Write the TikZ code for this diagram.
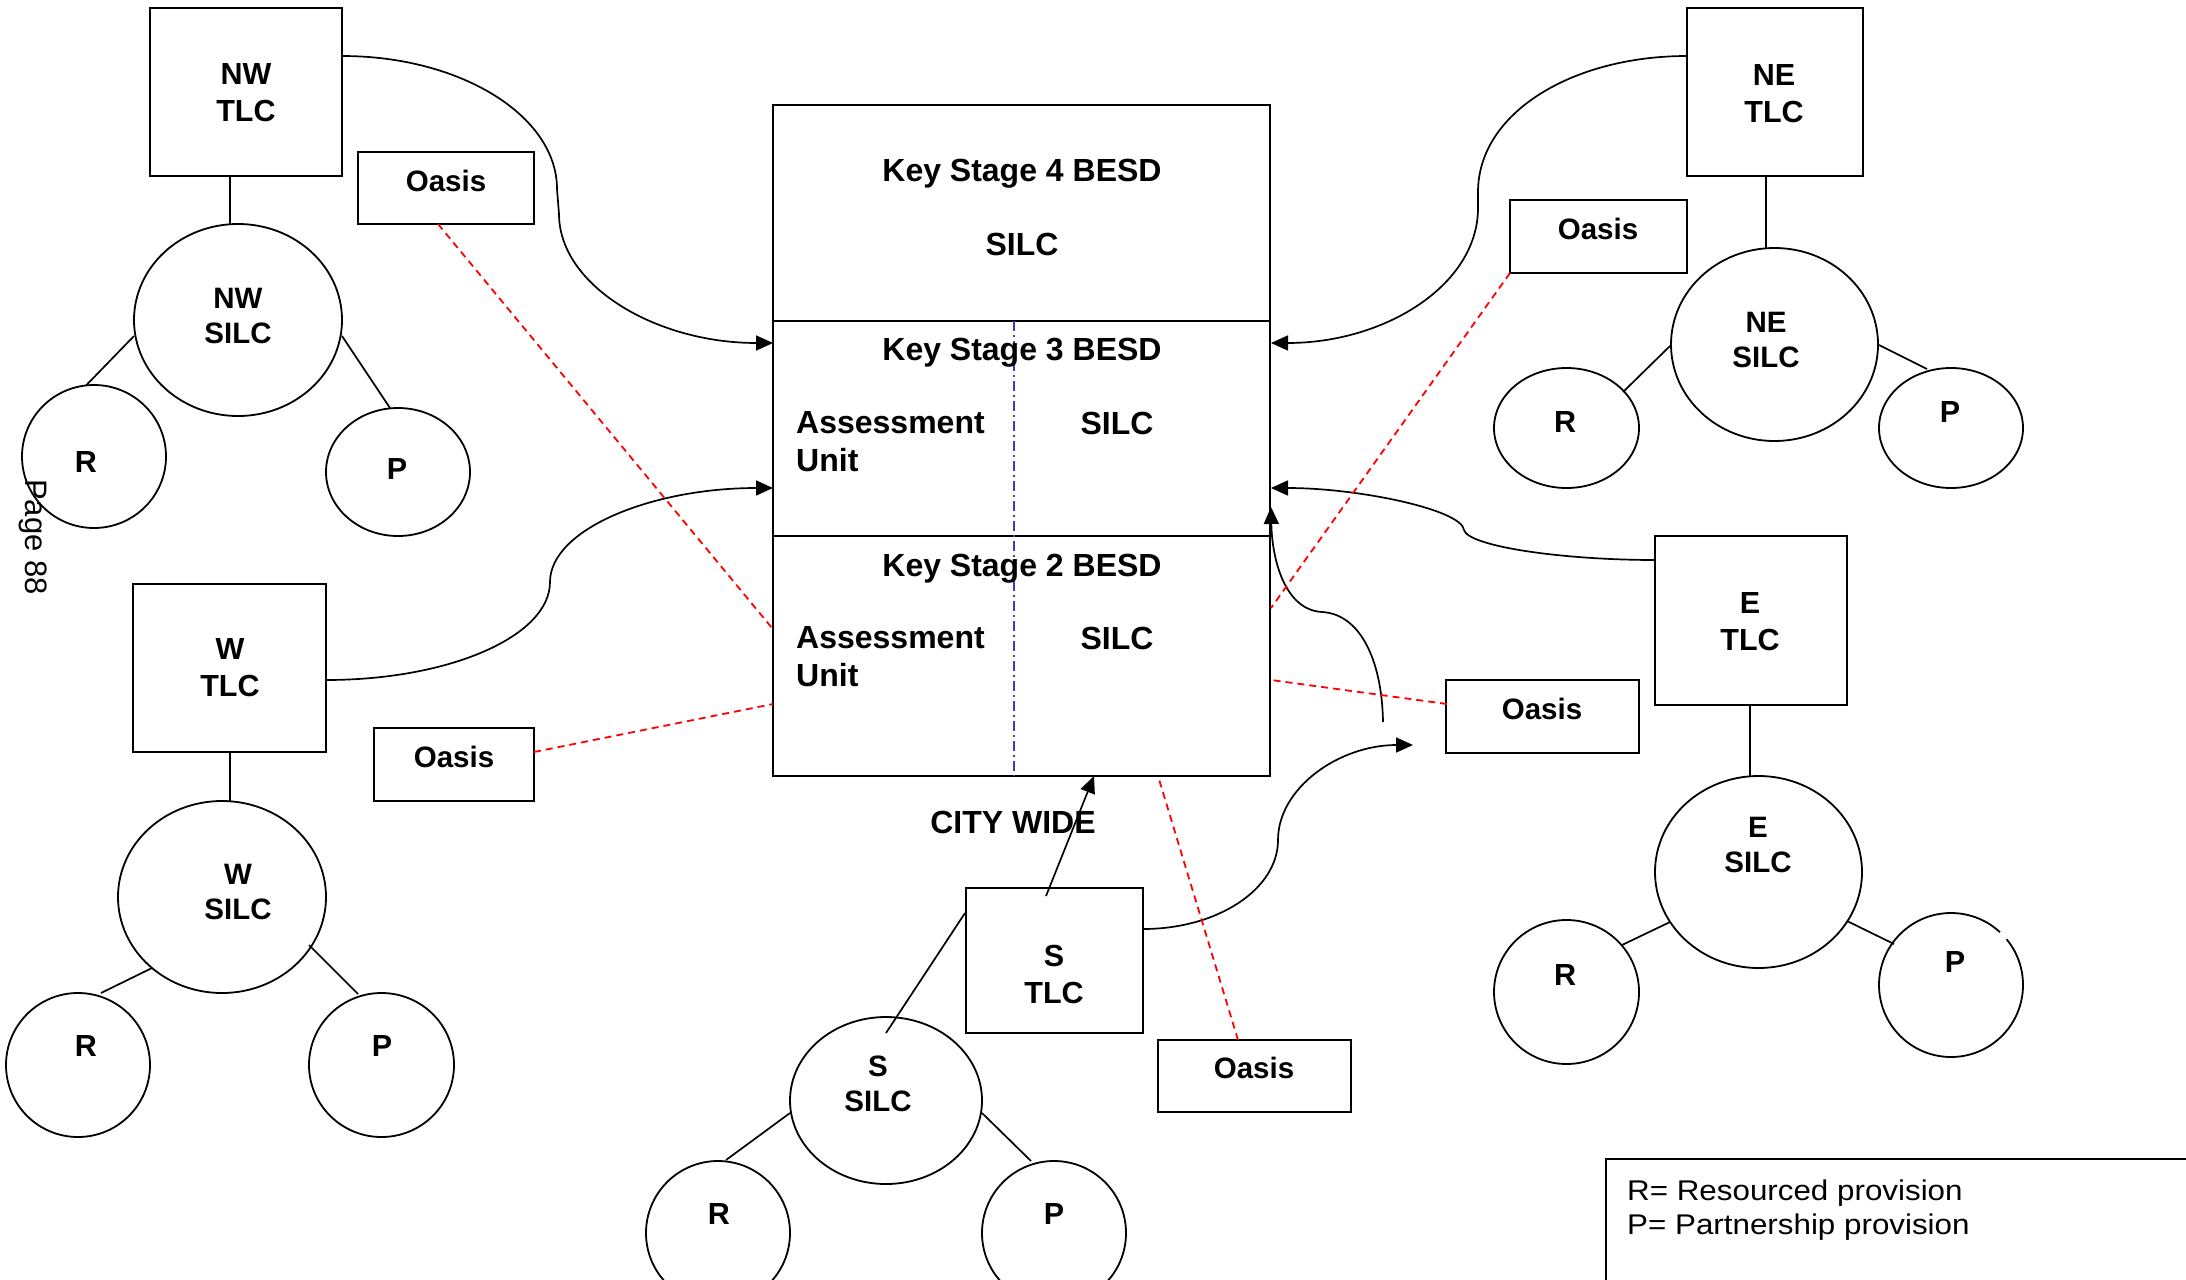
\documentclass[tikz,border=0pt]{standalone}
\usepackage{fontspec}
\setmainfont{Liberation Sans}
\newfontfamily\legfont[FakeStretch=1.1]{Liberation Sans}
\usetikzlibrary{arrows.meta,shapes.geometric}
\begin{document}
\begin{tikzpicture}[x=1pt,y=-1pt,
  shp/.style={draw, line width=1.8pt, inner sep=0pt, outer sep=0pt},
  rbox/.style={shp, rectangle},
  ell/.style={shp, ellipse},
  lab/.style={inner sep=0pt, align=center, font=\fontsize{30.5}{37}\selectfont\bfseries},
  slab/.style={inner sep=0pt, align=center, font=\fontsize{29.5}{35}\selectfont\bfseries},
  big/.style={inner sep=0pt, font=\fontsize{32}{38}\selectfont\bfseries},
  conn/.style={line width=1.7pt},
  arr/.style={conn, -{Triangle[length=17pt,width=15pt]}},
  redash/.style={draw=red, line width=1.8pt, dash pattern=on 7pt off 5pt},
  bluedd/.style={draw={rgb,255:red,60;green,60;blue,190}, line width=1.3pt, dash pattern=on 10pt off 4pt on 2pt off 4pt}
]
\useasboundingbox (0,0) rectangle (2186,1279);
\clip (0,0) rectangle (2186,1279);

% central block
\node[rbox, minimum width=497pt, minimum height=216.3pt] (ks4) at (1021.5,212.85) {};
\node[rbox, minimum width=497pt, minimum height=215pt] (ks3) at (1021.5,428.5) {};
\node[rbox, minimum width=497pt, minimum height=240pt] (ks2) at (1021.5,656) {};
\draw[bluedd] ([shift={(-7.5,0)}]ks3.north) -- ([shift={(-7.5,0)}]ks2.south);
\node[big, anchor=base] (ks4t) at (1022,181.5) {Key Stage 4 BESD};
\node[big, anchor=base] (ks4s) at (1022,255.5) {SILC};
\node[big, anchor=base] (ks3t) at (1022,360.5) {Key Stage 3 BESD};
\node[big, anchor=north west, align=left] (ks3a) at (796,411.5) {Assessment\\Unit};
\node[big, anchor=base] (ks3s) at (1117,434.5) {SILC};
\node[big, anchor=base] (ks2t) at (1022,576.5) {Key Stage 2 BESD};
\node[big, anchor=north west, align=left] (ks2a) at (796,626.5) {Assessment\\Unit};
\node[big, anchor=base] (ks2s) at (1117,649.5) {SILC};
\node[big] (city) at (1013,822) {CITY WIDE};

% NW
\node[rbox, minimum width=192pt, minimum height=168pt] (nwtlc) at (246,92) {};
\node[rbox, minimum width=176pt, minimum height=71.5pt] (nwoasis) at (446,188) {};
\node[ell, minimum width=208pt, minimum height=192pt] (nwsilc) at (238,320) {};
\node[ell, minimum width=144pt, minimum height=143pt] (nwr) at (94,456.5) {};
\node[ell, minimum width=144pt, minimum height=128pt] (nwp) at (398,472) {};
\node[lab] (nwtlct) at (246,92.5) {NW\\TLC};
\node[slab] (nwoasist) at (446,181) {Oasis};
\node[slab] (nwsilct) at (238,315.5) {NW\\SILC};
\node[lab] (nwrt) at (86,462) {R};
\node[lab] (nwpt) at (397,469) {P};

% NE
\node[rbox, minimum width=176pt, minimum height=168pt] (netlc) at (1775,92) {};
\node[rbox, minimum width=177pt, minimum height=73pt] (neoasis) at (1598.5,236.5) {};
\node[ell, minimum width=207pt, minimum height=193pt] (nesilc) at (1774.5,344.5) {};
\node[ell, minimum width=145pt, minimum height=120pt] (ner) at (1566.5,428) {};
\node[ell, minimum width=144pt, minimum height=120pt] (nep) at (1951,428) {};
\node[lab] (netlct) at (1774,93.5) {NE\\TLC};
\node[slab] (neoasist) at (1598,229) {Oasis};
\node[slab] (nesilct) at (1766,339.5) {NE\\SILC};
\node[lab] (nert) at (1565,422) {R};
\node[lab] (nept) at (1950,412) {P};

% W
\node[rbox, minimum width=193pt, minimum height=168pt] (wtlc) at (229.5,668) {};
\node[rbox, minimum width=160pt, minimum height=73pt] (woasis) at (454,764.5) {};
\node[ell, minimum width=208pt, minimum height=192pt] (wsilc) at (222,897) {};
\node[ell, minimum width=144pt, minimum height=144pt] (wr) at (78,1065) {};
\node[ell, minimum width=145pt, minimum height=144pt] (wp) at (381.5,1065) {};
\node[lab] (wtlct) at (230,668) {W\\TLC};
\node[slab] (woasist) at (454,757) {Oasis};
\node[slab] (wsilct) at (238,891.5) {W\\SILC};
\node[lab] (wrt) at (86,1046) {R};
\node[lab] (wpt) at (382,1046) {P};

% E
\node[rbox, minimum width=192pt, minimum height=169pt] (etlc) at (1751,620.5) {};
\node[rbox, minimum width=193pt, minimum height=73pt] (eoasis) at (1542.5,716.5) {};
\node[ell, minimum width=207pt, minimum height=192pt] (esilc) at (1758.5,872) {};
\node[ell, minimum width=145pt, minimum height=144pt] (er) at (1566.5,992) {};
\node[ellipse, inner sep=0pt, minimum width=144pt, minimum height=144pt] (ep) at (1951,985) {};
\draw[line width=1.8pt] ([shift={(-39.4:72)}]ep.center) arc[start angle=-39.4, end angle=312.8, radius=72];
\node[lab] (etlct) at (1750,621.5) {E\\TLC};
\node[slab] (eoasist) at (1542,709) {Oasis};
\node[slab] (esilct) at (1758,844.5) {E\\SILC};
\node[lab] (ert) at (1565,975) {R};
\node[lab] (ept) at (1955,962) {P};

% S
\node[rbox, minimum width=177pt, minimum height=145pt] (stlc) at (1054.5,960.5) {};
\node[rbox, minimum width=193pt, minimum height=72pt] (soasis) at (1254.5,1076) {};
\node[ell, minimum width=192pt, minimum height=167pt] (ssilc) at (886,1100.5) {};
\node[ell, minimum width=144pt, minimum height=144pt] (sr) at (718,1233) {};
\node[ell, minimum width=144pt, minimum height=144pt] (sp) at (1054,1233) {};
\node[lab] (stlct) at (1054,974.5) {S\\TLC};
\node[slab] (soasist) at (1254,1068) {Oasis};
\node[slab] (ssilct) at (878,1084) {S\\SILC};
\node[lab] (srt) at (719,1214) {R};
\node[lab] (spt) at (1054,1214) {P};

% tree lines
\draw[conn] ([shift={(-16,84)}]nwtlc.center) -- ([shift={(-8,-96)}]nwsilc.center);
\draw[conn] ([shift={(-104,16)}]nwsilc.center) -- ([shift={(-8,-71)}]nwr.center);
\draw[conn] ([shift={(104,16)}]nwsilc.center) -- ([shift={(-8,-64)}]nwp.center);
\draw[conn] ([shift={(-9,84)}]netlc.center) -- ([shift={(-8.5,-96.5)}]nesilc.center);
\draw[conn] ([shift={(-103.5,0.5)}]nesilc.center) -- ([shift={(56.5,-36)}]ner.center);
\draw[conn] ([shift={(104.5,0.5)}]nesilc.center) -- ([shift={(-24,-59)}]nep.center);
\draw[conn] ([shift={(0.5,84)}]wtlc.center) -- ([shift={(8,-96)}]wsilc.center);
\draw[conn] ([shift={(-70,71)}]wsilc.center) -- ([shift={(23,-72)}]wr.center);
\draw[conn] ([shift={(87,48)}]wsilc.center) -- ([shift={(-23.5,-71)}]wp.center);
\draw[conn] ([shift={(-1,84.5)}]etlc.center) -- ([shift={(-8.5,-96)}]esilc.center);
\draw[conn] ([shift={(-88.5,50)}]esilc.center) -- ([shift={(55.5,-47)}]er.center);
\draw[conn] ([shift={(88.5,49)}]esilc.center) -- ([shift={(-57,-41)}]ep.center);
\draw[conn] ([shift={(-89.5,-47.5)}]stlc.center) -- ([shift={(0,-67.5)}]ssilc.center);
\draw[conn] ([shift={(-96,12.5)}]ssilc.center) -- ([shift={(8,-73)}]sr.center);
\draw[conn] ([shift={(96,12.5)}]ssilc.center) -- ([shift={(-23,-72)}]sp.center);

% curved connectors
\draw[arr] ([shift={(96,-36)}]nwtlc.center) .. controls (461,56) and (557,116) .. (557,189) -- (559,214) .. controls (559,285) and (655,343) .. ([shift={(-248.5,-85.5)}]ks3.center);
\draw[arr] ([shift={(96.5,12)}]wtlc.center) .. controls (450,680) and (550,636) .. (550,582) .. controls (550,530) and (650,488) .. ([shift={(-248.5,59.5)}]ks3.center);
\draw[arr] ([shift={(-88,-36)}]netlc.center) .. controls (1572,56) and (1478,113) .. (1478,192) -- (1478,208) .. controls (1478,285) and (1385,343) .. ([shift={(249.5,-85.5)}]ks3.center);
\draw[arr] ([shift={(-96,-60.5)}]etlc.center) .. controls (1560,560) and (1468,546) .. (1464,530) .. controls (1462,510) and (1360,488) .. ([shift={(249.5,59.5)}]ks3.center);
\coordinate (stip) at (1413,745);
\draw[arr] ([shift={(88.5,-31.5)}]stlc.center) .. controls (1218,929) and (1278,889) .. (1278,840) .. controls (1278,788) and (1339,745) .. (stip);
\coordinate (estart) at (1383,722);
\draw[arr] (estart) .. controls (1382,660) and (1360,614) .. (1322,612) .. controls (1285,610) and (1272,560) .. ([shift={(249.5,78.5)}]ks3.center);
\draw[arr] ([shift={(-8.5,-64.5)}]stlc.center) -- ([shift={(72.5,120)}]ks2.center);

% red dashed links
\draw[redash] ([shift={(-8,36)}]nwoasis.center) -- ([shift={(-249.5,-28)}]ks2.center);
\draw[redash] ([shift={(80,-12.5)}]woasis.center) -- ([shift={(-248.5,48)}]ks2.center);
\draw[redash] ([shift={(-88.5,36.5)}]neoasis.center) -- ([shift={(249.5,-48)}]ks2.center);
\draw[redash] ([shift={(-95.5,-12.5)}]eoasis.center) -- ([shift={(249.5,24)}]ks2.center);
\draw[redash] ([shift={(-16.5,-36)}]soasis.center) -- ([shift={(136.5,120)}]ks2.center);

% page number
\node[inner sep=0pt, rotate=-90, font=\fontsize{31}{36}\selectfont] (page) at (33,537) {Page 88};

% legend
\node[inner sep=0pt, anchor=north west, minimum width=640pt, minimum height=200pt] (legend) at (1606,1159) {};
\draw[line width=1.8pt] (legend.south west) -- (legend.north west) -- (legend.north east);
\node[inner sep=0pt, anchor=north west, align=left, font=\legfont\fontsize{28.5}{34}\selectfont] (legendt) at (1627,1180) {R= Resourced provision\\P= Partnership provision};
\end{tikzpicture}
\end{document}
